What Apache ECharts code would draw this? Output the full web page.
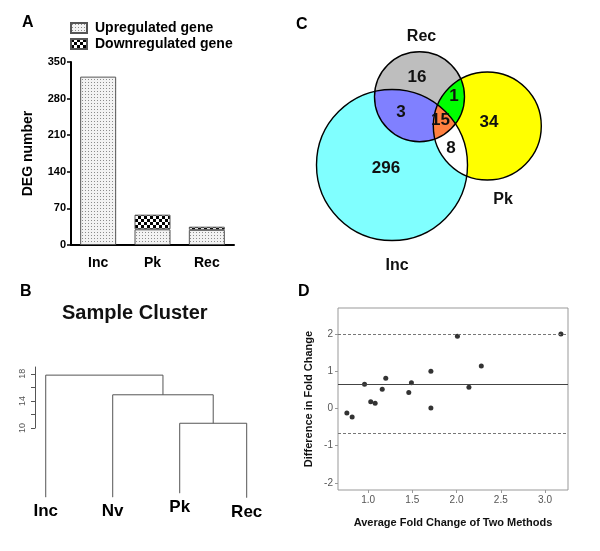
<!DOCTYPE html>
<html><head><meta charset="utf-8">
<script src="https://cdn.jsdelivr.net/npm/echarts@6/dist/echarts.min.js"></script>
<style>html,body{margin:0;padding:0;background:#fff}#c{width:600px;height:551px}</style>
</head><body><div id="c"></div>
<script>
// ---------- Panel A: DEG numbers ----------
const degCategories = ['Inc', 'Pk', 'Rec'];
const upregulated = [322, 30, 29];
const downregulated = [0, 28, 6];
const degTicks = [0, 70, 140, 210, 280, 350];

// ---------- Panel B: sample cluster dendrogram ----------
const clusterLeaves = ['Inc', 'Nv', 'Pk', 'Rec'];
const clusterMerge = [[-3, -4], [-2, 1], [-1, 2]];
const clusterHeights = [10.7, 14.9, 17.8];
const leafEnds = [-0.15, -0.15, 0.45, -0.2];
const clusterTicks = [10, 12, 14, 16, 18];
const clusterTickLabels = [10, 14, 18];

// ---------- Panel C: Venn diagram ----------
const vennSetNames = ['Inc', 'Rec', 'Pk'];
const vennRegionSets = [['Inc'], ['Rec'], ['Pk'], ['Inc', 'Rec'], ['Rec', 'Pk'], ['Inc', 'Pk'], ['Inc', 'Rec', 'Pk']];
const vennCounts = [296, 16, 34, 3, 1, 8, 15];

// ---------- Panel D: Bland-Altman ----------
const baFoldAverage = [0.76, 0.82, 0.96, 1.03, 1.08, 1.16, 1.20, 1.46, 1.49, 1.71, 1.71, 2.01, 2.14, 2.28, 3.18];
const baFoldDifference = [-0.12, -0.23, 0.65, 0.18, 0.14, 0.52, 0.81, 0.43, 0.69, 1.00, 0.01, 1.94, 0.57, 1.14, 2.00];
const baMeanDiff = 0.66;
const baUpperLimit = 1.99;
const baLowerLimit = -0.67;
const baXTicks = [1.0, 1.5, 2.0, 2.5, 3.0];
const baYTicks = [-2, -1, 0, 1, 2];

// ---------- layout / style (not data) ----------
const FF = '"Liberation Sans", Arial, Helvetica, sans-serif';
const vennLayout = { // circle geometry in panel pixel space
  Inc: { cx: 392, cy: 165, r: 75.5 },
  Rec: { cx: 419.5, cy: 96.7, r: 45 },
  Pk: { cx: 487.3, cy: 126, r: 54 }
};
const vennRegionColors = ['#80ffff', '#bebebe', '#ffff00', '#8080ff', '#00ff00', '#ffffff', '#ff8040'];
const vennCountPos = [[386, 168], [417, 77], [489, 122], [401, 112], [454, 96], [451, 148.5], [440.5, 120.5]];
const vennSetLabelPos = { Inc: [397, 265.5], Rec: [421.5, 36.5], Pk: [503, 200] };

function makePattern(w, h, draw) {
  const c = document.createElement('canvas');
  c.width = w; c.height = h;
  draw(c.getContext('2d'));
  return { image: c, repeat: 'repeat' };
}
const upPattern = makePattern(3, 3, g => {
  g.fillStyle = '#f3f3f3'; g.fillRect(0, 0, 3, 3);
  g.fillStyle = '#8c8c8c'; g.fillRect(1, 1, 1, 1);
});
const downPattern = makePattern(6, 6, g => {
  g.fillStyle = '#ffffff'; g.fillRect(0, 0, 6, 6);
  g.fillStyle = '#000000'; g.fillRect(0, 0, 3, 3); g.fillRect(3, 3, 3, 3);
});

// dendrogram segments from merge matrix
const leafX = clusterLeaves.map((_, i) => i + 1);
const clusterNodes = [];
const dendroSegments = clusterMerge.map((m, i) => {
  const pt = k => k < 0 ? { x: leafX[-k - 1], y: leafEnds[-k - 1] } : clusterNodes[k - 1];
  const a = pt(m[0]), b = pt(m[1]), h = clusterHeights[i];
  clusterNodes.push({ x: (a.x + b.x) / 2, y: h });
  return [[a.x, a.y], [a.x, h], [b.x, h], [b.x, b.y]];
});

// convex polygon clipping (Sutherland-Hodgman)
function clipPoly(subject, clip) {
  let area = 0;
  for (let i = 0; i < clip.length; i++) {
    const p = clip[i], q = clip[(i + 1) % clip.length];
    area += p[0] * q[1] - q[0] * p[1];
  }
  const s = Math.sign(area);
  let output = subject;
  for (let i = 0; i < clip.length && output.length; i++) {
    const a = clip[i], b = clip[(i + 1) % clip.length];
    const input = output; output = [];
    const inside = p => s * ((b[0] - a[0]) * (p[1] - a[1]) - (b[1] - a[1]) * (p[0] - a[0])) >= 0;
    const inter = (p, q) => {
      const x1 = a[0], y1 = a[1], x2 = b[0], y2 = b[1], x3 = p[0], y3 = p[1], x4 = q[0], y4 = q[1];
      const den = (x1 - x2) * (y3 - y4) - (y1 - y2) * (x3 - x4);
      const t = ((x1 - x3) * (y3 - y4) - (y1 - y3) * (x3 - x4)) / den;
      return [x1 + t * (x2 - x1), y1 + t * (y2 - y1)];
    };
    for (let j = 0; j < input.length; j++) {
      const cur = input[j], prev = input[(j + input.length - 1) % input.length];
      const ci = inside(cur), pi = inside(prev);
      if (ci) { if (!pi) output.push(inter(prev, cur)); output.push(cur); }
      else if (pi) output.push(inter(prev, cur));
    }
  }
  return output;
}

function vennRender(params, api) {
  const circ = {};
  vennSetNames.forEach(n => {
    const c = vennLayout[n];
    const p = api.coord([c.cx, c.cy]);
    circ[n] = { cx: p[0], cy: p[1], r: api.size([c.r, 0])[0] };
  });
  const poly = c => {
    const pts = [], N = 360;
    for (let i = 0; i < N; i++) { const t = 2 * Math.PI * i / N; pts.push([c.cx + c.r * Math.cos(t), c.cy + c.r * Math.sin(t)]); }
    return pts;
  };
  const children = [];
  vennRegionSets.forEach((sets, i) => {
    let pts = poly(circ[sets[0]]);
    for (let k = 1; k < sets.length; k++) pts = clipPoly(pts, poly(circ[sets[k]]));
    children.push({ type: 'polygon', shape: { points: pts }, style: { fill: vennRegionColors[i], stroke: null } });
  });
  vennSetNames.forEach(n => {
    const c = circ[n];
    children.push({ type: 'circle', shape: { cx: c.cx, cy: c.cy, r: c.r }, style: { fill: null, stroke: '#000', lineWidth: 1.4 } });
  });
  const txt = (t, p, size) => {
    const q = api.coord(p);
    return { type: 'text', x: q[0], y: q[1], style: { text: String(t), font: 'bold ' + size + 'px ' + FF, fill: '#111', align: 'center', verticalAlign: 'middle', textAlign: 'center', textVerticalAlign: 'middle' } };
  };
  vennCounts.forEach((v, i) => children.push(txt(v, vennCountPos[i], 17)));
  vennSetNames.forEach(n => children.push(txt(n, vennSetLabelPos[n], 16)));
  return { type: 'group', children };
}

const chart = echarts.init(document.getElementById('c'), null, { renderer: 'canvas', width: 600, height: 551 });
const letter = (t, l, tp) => ({ text: t, left: l, top: tp, padding: 0, textStyle: { fontFamily: FF, fontSize: 16, fontWeight: 'bold', color: '#000' } });

chart.setOption({
  animation: false,
  backgroundColor: '#fff',
  title: [
    letter('A', 22, 15), letter('B', 20, 284), letter('C', 296, 17), letter('D', 298, 284),
    { text: 'Sample Cluster', left: 62, top: 303, padding: 0, textStyle: { fontFamily: FF, fontSize: 20, fontWeight: 'bold', color: '#111' } }
  ],
  legend: {
    data: ['Upregulated gene', 'Downregulated gene'],
    orient: 'vertical', left: 70, top: 21, padding: 0, itemWidth: 16, itemHeight: 10, itemGap: 2,
    icon: 'rect', selectedMode: false,
    textStyle: { fontFamily: FF, fontSize: 14, fontWeight: 'bold', color: '#000', padding: [0, 0, 0, 3] }
  },
  grid: [
    { left: 71, top: 62, width: 163, height: 183 },
    { left: 35, top: 367, width: 245.2, height: 61 },
    { left: 300, top: 0, width: 300, height: 280 },
    { left: 338, top: 308, width: 230, height: 182, show: true, borderColor: '#999', borderWidth: 1, backgroundColor: 'transparent' }
  ],
  xAxis: [
    { gridIndex: 0, type: 'category', data: degCategories,
      axisLine: { lineStyle: { color: '#000', width: 2 } },
      axisTick: { alignWithLabel: true, length: 4, lineStyle: { color: '#000', width: 1.5 } },
      axisLabel: { fontFamily: FF, fontSize: 14, fontWeight: 'bold', color: '#000', margin: 11 } },
    { gridIndex: 1, type: 'value', min: 0.84, max: 4.5, show: false },
    { gridIndex: 2, type: 'value', min: 300, max: 600, show: false },
    { gridIndex: 3, type: 'value', min: 0.66, max: 3.26, position: 'bottom',
      name: 'Average Fold Change of Two Methods', nameLocation: 'middle', nameGap: 27,
      nameTextStyle: { fontFamily: FF, fontSize: 11, fontWeight: 'bold', color: '#111' },
      axisLine: { show: false, onZero: false }, splitLine: { show: false },
      axisTick: { show: true, customValues: baXTicks, length: 3, lineStyle: { color: '#999' } },
      axisLabel: { customValues: baXTicks, formatter: v => v.toFixed(1), fontFamily: FF, fontSize: 10, color: '#555', margin: 5 } }
  ],
  yAxis: [
    { gridIndex: 0, type: 'value', min: 0, max: 350, interval: 70,
      name: 'DEG number', nameLocation: 'middle', nameGap: 36,
      nameTextStyle: { fontFamily: FF, fontSize: 14, fontWeight: 'bold', color: '#000' },
      axisLine: { show: true, lineStyle: { color: '#000', width: 2 } },
      axisTick: { show: true, length: 4, lineStyle: { color: '#000', width: 1.5 } },
      axisLabel: { customValues: degTicks, fontFamily: FF, fontSize: 11, fontWeight: 'bold', color: '#000', margin: 5 },
      splitLine: { show: false } },
    { gridIndex: 1, type: 'value', min: 10, max: 19,
      axisLine: { show: true, lineStyle: { color: '#555', width: 1 } },
      axisTick: { show: true, customValues: clusterTicks, length: 4, lineStyle: { color: '#555' } },
      axisLabel: { customValues: clusterTickLabels, rotate: 90, fontFamily: FF, fontSize: 9, color: '#555', margin: 8 },
      splitLine: { show: false } },
    { gridIndex: 2, type: 'value', min: 0, max: 280, inverse: true, show: false },
    { gridIndex: 3, type: 'value', min: -2.19, max: 2.7, position: 'left',
      name: 'Difference in Fold Change', nameLocation: 'middle', nameGap: 24,
      nameTextStyle: { fontFamily: FF, fontSize: 11, fontWeight: 'bold', color: '#111' },
      axisLine: { show: false, onZero: false }, splitLine: { show: false },
      axisTick: { show: true, customValues: baYTicks, length: 3, lineStyle: { color: '#999' } },
      axisLabel: { customValues: baYTicks, fontFamily: FF, fontSize: 10, color: '#555', margin: 5 } }
  ],
  series: [
    { name: 'Upregulated gene', type: 'bar', stack: 'deg', xAxisIndex: 0, yAxisIndex: 0, barWidth: 36,
      data: upregulated.map(v => v > 0 ? v : '-'),
      itemStyle: { color: upPattern, borderColor: '#555', borderWidth: 1 } },
    { name: 'Downregulated gene', type: 'bar', stack: 'deg', xAxisIndex: 0, yAxisIndex: 0, barWidth: 36,
      data: downregulated.map(v => v > 0 ? v : '-'),
      itemStyle: { color: downPattern, borderColor: '#555', borderWidth: 1 } },
    ...dendroSegments.map(seg => ({
      type: 'line', xAxisIndex: 1, yAxisIndex: 1, data: seg, symbol: 'none', clip: false,
      lineStyle: { color: '#555', width: 1 }, silent: true
    })),
    { type: 'scatter', xAxisIndex: 1, yAxisIndex: 1, clip: false, symbolSize: 1,
      itemStyle: { color: '#555', opacity: 1 },
      data: leafX.map((x, i) => [x, leafEnds[i]]),
      label: { show: true, position: 'bottom', distance: 6, formatter: p => clusterLeaves[p.dataIndex],
        fontFamily: FF, fontSize: 17, fontWeight: 'bold', color: '#000', opacity: 1 } },
    { type: 'custom', xAxisIndex: 2, yAxisIndex: 2, clip: false, data: [[300, 0]], renderItem: vennRender, silent: true },
    { type: 'scatter', xAxisIndex: 3, yAxisIndex: 3, symbolSize: 5,
      itemStyle: { color: '#333', opacity: 1 },
      data: baFoldAverage.map((x, i) => [x, baFoldDifference[i]]),
      markLine: { symbol: 'none', silent: true, label: { show: false },
        data: [
          { yAxis: baMeanDiff, lineStyle: { type: 'solid', color: '#444', width: 1 } },
          { yAxis: baUpperLimit, lineStyle: { type: [3, 2], color: '#777', width: 1 } },
          { yAxis: baLowerLimit, lineStyle: { type: [3, 2], color: '#777', width: 1 } }
        ] } }
  ]
});
</script>
</body></html>
